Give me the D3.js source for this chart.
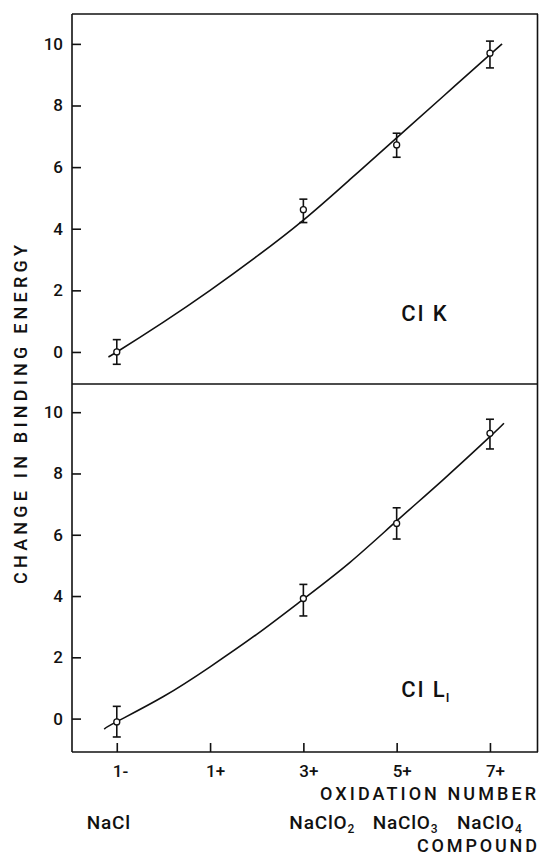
<!DOCTYPE html>
<html>
<head>
<meta charset="utf-8">
<script src="https://cdn.jsdelivr.net/npm/d3@7/dist/d3.min.js"></script>
<style>
  body { margin: 0; background: #fff; }
  svg text { font-family: Roboto, "DejaVu Sans", sans-serif; font-weight: 500; fill: #111; }
</style>
</head>
<body>
<svg id="chart" width="539" height="862"></svg>
<script>
// oxidation numbers of the measured compounds
const oxidation = [-1, 3, 5, 7];
const tickValues = [-1, 1, 3, 5, 7];
const tickLabels = ["1-", "1+", "3+", "5+", "7+"];
const yTicks = [0, 2, 4, 6, 8, 10];
const compoundBase = ["NaCl", "NaClO", "NaClO", "NaClO"];
const compoundSub = ["", "2", "3", "4"];

// Cl K shifts (top panel)
const clK = [0.0, 4.62, 6.72, 9.7];
const clKLow = [-0.4, 4.2, 6.32, 9.22];
const clKHigh = [0.4, 4.96, 7.1, 10.09];
const clKFitX = [-1.15, -1, 0, 1, 2, 3, 4, 5, 6, 7, 7.26];
const clKFit = [-0.13, 0.0, 0.97, 2.0, 3.1, 4.28, 5.6, 6.95, 8.3, 9.65, 10.0];

// Cl L_I shifts (bottom panel)
const clL = [-0.11, 3.92, 6.37, 9.31];
const clLLow = [-0.6, 3.35, 5.86, 8.8];
const clLHigh = [0.4, 4.38, 6.88, 9.77];
const clLFitX = [-1.27, -1, 0, 1, 2, 3, 4, 5, 6, 7, 7.3];
const clLFit = [-0.34, -0.1, 0.72, 1.69, 2.75, 3.9, 5.1, 6.45, 7.8, 9.2, 9.64];

let svg = d3.select("#chart"),
    cs = {
        left: 72, right: 538, top: 14, mid: 384, bottom: 752,
        ink: "#111"
    };

let x = d3.scaleLinear().domain([-1.96, 8.03]).range([cs.left, cs.right]);
let yTop = d3.scaleLinear().domain([-1.04, 10.97]).range([cs.mid, cs.top]);
let yBot = d3.scaleLinear().domain([-1.09, 10.92]).range([cs.bottom, cs.mid]);

let drawPanel = function (y, vals, lows, highs, fitX, fit, label, sub, labelY) {
    let g = svg.append("g");

    // left axis, ticks pointing inward
    g.append("g")
        .attr("transform", "translate(" + cs.left + ",0)")
        .call(d3.axisLeft(y).tickValues(yTicks).tickSize(-9).tickPadding(9))
        .call(a => a.select(".domain").remove())
        .call(a => a.selectAll("line").attr("stroke", cs.ink).attr("stroke-width", 1.6))
        .call(a => a.selectAll("text").attr("font-size", 17).attr("font-family", null));

    // fitted curve
    let line = d3.line()
        .x((d, i) => x(fitX[i]))
        .y(d => y(d))
        .curve(d3.curveNatural);
    g.append("path")
        .datum(fit)
        .attr("d", line)
        .attr("fill", "none")
        .attr("stroke", cs.ink)
        .attr("stroke-width", 1.6);

    // error bars
    let eb = g.selectAll(".eb").data(vals).enter().append("g");
    eb.append("line")
        .attr("x1", (d, i) => x(oxidation[i])).attr("x2", (d, i) => x(oxidation[i]))
        .attr("y1", (d, i) => y(lows[i])).attr("y2", (d, i) => y(highs[i]));
    eb.append("line")
        .attr("x1", (d, i) => x(oxidation[i]) - 4).attr("x2", (d, i) => x(oxidation[i]) + 4)
        .attr("y1", (d, i) => y(lows[i])).attr("y2", (d, i) => y(lows[i]));
    eb.append("line")
        .attr("x1", (d, i) => x(oxidation[i]) - 4).attr("x2", (d, i) => x(oxidation[i]) + 4)
        .attr("y1", (d, i) => y(highs[i])).attr("y2", (d, i) => y(highs[i]));
    eb.selectAll("line").attr("stroke", cs.ink).attr("stroke-width", 1.6);

    // data points, open circles
    g.selectAll("circle").data(vals).enter().append("circle")
        .attr("cx", (d, i) => x(oxidation[i]))
        .attr("cy", d => y(d))
        .attr("r", 3)
        .attr("fill", "#fff")
        .attr("stroke", cs.ink)
        .attr("stroke-width", 1.3);

    let t = g.append("text")
        .attr("x", x(5.1))
        .attr("y", y(labelY))
        .attr("font-size", 22)
        .attr("letter-spacing", 2)
        .text(label);
    if (sub) {
        t.append("tspan").attr("font-size", 13).attr("dy", 5).attr("dx", -1).text(sub);
    }
};

drawPanel(yTop, clK, clKLow, clKHigh, clKFitX, clKFit, "Cl K", null, 1.0);
drawPanel(yBot, clL, clLLow, clLHigh, clLFitX, clLFit, "Cl L", "I", 0.7);

// frame
let frame = svg.append("g").attr("stroke", cs.ink).attr("stroke-width", 1.6);
frame.append("line").attr("x1", cs.left).attr("x2", cs.right).attr("y1", cs.top).attr("y2", cs.top);
frame.append("line").attr("x1", cs.left).attr("x2", cs.right).attr("y1", cs.mid).attr("y2", cs.mid);
frame.append("line").attr("x1", cs.left).attr("x2", cs.right).attr("y1", cs.bottom).attr("y2", cs.bottom);
frame.append("line").attr("x1", cs.left).attr("x2", cs.left).attr("y1", cs.top).attr("y2", cs.bottom);
frame.append("line").attr("x1", cs.right - 0.5).attr("x2", cs.right - 0.5).attr("y1", cs.top).attr("y2", cs.bottom);

// bottom axis with inward ticks
svg.append("g")
    .attr("transform", "translate(0," + cs.bottom + ")")
    .call(d3.axisBottom(x).tickValues(tickValues).tickSize(-9).tickPadding(13)
        .tickFormat((d, i) => tickLabels[i]))
    .call(a => a.select(".domain").remove())
    .call(a => a.selectAll("line").attr("stroke", cs.ink).attr("stroke-width", 1.6))
    .call(a => a.selectAll("text").attr("font-size", 17).attr("font-family", null)
        .attr("text-anchor", "start").attr("x", -4.5));

// axis titles
svg.append("text")
    .attr("transform", "translate(27,414.5) rotate(-90)")
    .attr("text-anchor", "middle")
    .attr("font-size", 18)
    .attr("textLength", 339)
    .attr("lengthAdjust", "spacing")
    .text("CHANGE IN BINDING ENERGY");

svg.append("text")
    .attr("x", 320).attr("y", 800)
    .attr("font-size", 18)
    .attr("textLength", 216)
    .attr("lengthAdjust", "spacing")
    .text("OXIDATION NUMBER");

// compound names below the tick labels, each shifted left of its tick
const nameShift = [30, 14, 24, 33];
let comp = svg.selectAll(".compound").data(compoundBase).enter().append("text")
    .attr("class", "compound")
    .attr("x", (d, i) => x(oxidation[i]) - nameShift[i])
    .attr("y", 829)
    .attr("font-size", 19)
    .attr("letter-spacing", 0.8)
    .text(d => d);
comp.append("tspan")
    .attr("font-size", 12)
    .attr("dy", 4)
    .text((d, i) => compoundSub[i]);

svg.append("text")
    .attr("x", 417).attr("y", 852)
    .attr("font-size", 18)
    .attr("textLength", 120)
    .attr("lengthAdjust", "spacing")
    .text("COMPOUND");
</script>
</body>
</html>
